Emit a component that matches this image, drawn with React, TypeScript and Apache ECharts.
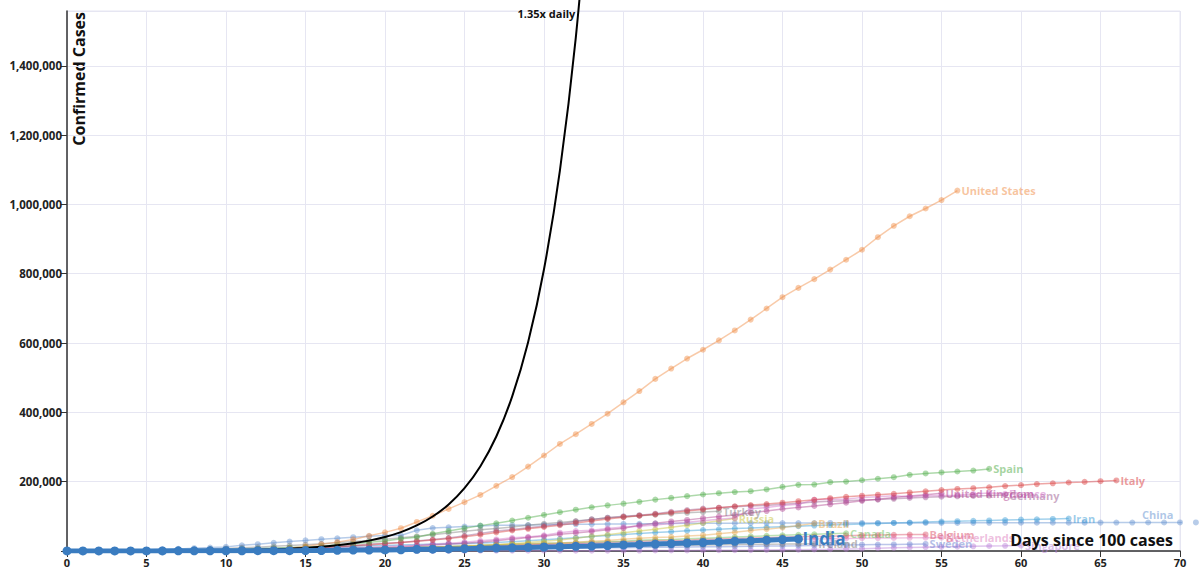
import React, { useEffect, useRef } from "react";
import * as echarts from "echarts";

const FONT = "'Open Sans', 'DejaVu Sans', sans-serif";

// Days since 100 cases (x), confirmed cases (y)
const xTicks = [0, 5, 10, 15, 20, 25, 30, 35, 40, 45, 50, 55, 60, 65, 70];
const yTicks = [200000, 400000, 600000, 800000, 1000000, 1200000, 1400000];

const dailyRef135 = [100, 135, 182, 246, 332, 448, 605, 817, 1103, 1489, 2011, 2714, 3664, 4947, 6678, 9016, 12170, 16430, 22180, 29950, 40430, 54580, 73680, 99470, 134280, 181280, 244730, 330380, 446010, 602120, 812860, 1097360, 1481440, 1999940];

const unitedStates = [149, 217, 262, 402, 518, 583, 959, 1281, 1663, 2179, 2727, 3499, 4632, 6421, 7783, 13747, 19273, 25600, 33276, 43847, 53740, 65778, 83836, 101657, 121478, 140886, 161807, 188172, 213372, 243453, 275586, 308850, 337072, 366667, 396223, 429052, 461437, 496535, 526396, 555313, 580619, 607670, 636350, 667592, 699706, 732197, 759086, 784326, 811865, 840351, 869170, 905358, 938154, 965785, 988197, 1012582, 1039909];

const spain = [120, 165, 222, 259, 400, 500, 673, 1073, 1695, 2277, 3146, 5232, 6391, 7798, 9942, 11748, 13910, 17963, 20410, 25374, 28768, 35136, 39885, 49515, 57786, 65719, 73235, 80110, 87956, 95923, 104118, 112065, 119199, 126168, 131646, 136675, 141942, 148220, 153222, 158273, 163027, 166831, 170099, 172541, 177644, 184948, 190839, 191726, 198674, 200210, 204178, 208389, 213024, 219764, 223759, 226629, 229422, 232128, 236899];

const italy = [155, 229, 322, 453, 655, 888, 1128, 1694, 2036, 2502, 3089, 3858, 4636, 5883, 7375, 9172, 10149, 12462, 15113, 17660, 21157, 24747, 27980, 31506, 35713, 41035, 47021, 53578, 59138, 63927, 69176, 74386, 80589, 86498, 92472, 97689, 101739, 105792, 110574, 115242, 119827, 124632, 128948, 132547, 135586, 139422, 143626, 147577, 152271, 156363, 159516, 162488, 165155, 168941, 172434, 175925, 178972, 181228, 183957, 187327, 189973, 192994, 195351, 197675, 199414, 201505, 203591];

const unitedKingdom = [115, 163, 206, 273, 321, 382, 456, 459, 802, 1144, 1145, 1551, 1960, 2642, 2716, 4014, 5067, 5745, 6726, 8164, 9640, 11812, 14745, 17312, 19780, 22453, 25481, 29865, 34173, 38689, 42477, 48436, 52279, 55949, 61474, 65872, 74605, 79874, 85206, 89570, 94845, 99483, 104145, 109769, 115314, 121172, 125856, 130172, 134638, 139246, 144640, 149569, 154037, 158348, 162350, 166441];

const france = [100, 130, 191, 204, 288, 380, 656, 959, 1136, 1219, 1794, 2293, 2293, 3681, 4496, 4532, 6683, 7715, 9124, 10970, 12758, 14463, 16243, 20123, 22622, 25600, 29551, 33402, 38105, 40708, 45170, 52827, 57749, 59929, 65202, 69500, 71412, 75343, 79163, 83057, 87366, 91738, 94863, 121712, 125394, 131361, 134582, 147969, 149149, 149149, 154715, 156813, 159297, 156480, 159109, 160292, 160847, 164589, 167605, 165093];

const germany = [130, 159, 196, 262, 482, 670, 799, 1040, 1176, 1457, 1908, 2078, 3675, 4585, 5795, 7272, 9257, 12327, 15320, 19848, 22213, 24873, 29056, 32986, 37323, 43938, 50871, 57695, 62095, 66885, 71808, 77872, 84794, 91159, 96092, 100123, 103374, 107663, 113296, 118181, 122171, 124908, 127854, 130072, 131359, 134753, 137698, 141397, 143342, 145184, 147065, 148291, 150648, 153129, 154999, 156513, 157770, 158758, 159912, 161539];

const turkey = [191, 359, 670, 947, 1236, 1529, 1872, 2433, 3629, 5698, 7402, 9217, 10827, 13531, 15679, 18135, 20921, 23934, 27069, 30217, 34109, 38226, 42282, 47029, 52167, 56956, 61049, 65111, 69392, 74193, 78546, 82329, 86306, 90980, 95591, 98674, 101790, 104912, 107773, 110130, 112261, 114653];

const russia = [114, 147, 199, 253, 306, 367, 438, 495, 658, 840, 1036, 1264, 1534, 1836, 2337, 2777, 3548, 4149, 4731, 5389, 6343, 7497, 8672, 10131, 11917, 13584, 15770, 18328, 21102, 24490, 27938, 32008, 36793, 42853, 47121, 52763, 57999, 62773, 68622, 74588, 80949, 87147, 93558];

const brazil = [151, 151, 162, 200, 321, 372, 621, 793, 1021, 1546, 1924, 2247, 2554, 2985, 3417, 3904, 4256, 4579, 5717, 6836, 8044, 9056, 10360, 11130, 12161, 14034, 16170, 18092, 19638, 20727, 22192, 23430, 25262, 28320, 30425, 33682, 36658, 38654, 40743, 43079, 45757, 50036, 54043, 59324, 63100, 67446, 73235, 79685];

const iran = [139, 245, 388, 593, 978, 1501, 2336, 2922, 3513, 4747, 5823, 6566, 7161, 8042, 9000, 10075, 11364, 12729, 13938, 14991, 16169, 17361, 18407, 19644, 20610, 21638, 23049, 24811, 27017, 29406, 32332, 35408, 38309, 41495, 44605, 47593, 50468, 53183, 55743, 58226, 60500, 62589, 64586, 66220, 68192, 70029, 71686, 73303, 74877, 76389, 77995, 79494, 80868, 82211, 83505, 84802, 85996, 87026, 88194, 89328, 90481, 91472, 92584, 93657];

const china = [548, 643, 920, 1406, 2075, 2877, 5509, 6087, 8141, 9802, 11891, 16630, 19716, 23707, 27440, 30587, 34110, 36814, 39829, 42354, 44386, 44759, 59895, 66358, 68413, 70513, 72434, 74211, 74619, 75077, 75550, 77001, 77022, 77241, 77754, 78166, 78600, 78928, 79356, 79932, 80136, 80261, 80386, 80537, 80690, 80770, 80823, 80860, 80887, 80921, 80932, 80945, 80977, 81003, 81033, 81058, 81102, 81156, 81250, 81305, 81435, 81498, 81591, 81661, 81782, 81897, 81999, 82122, 82198, 82279, 82361, 82432, 82511, 82543, 82602];

const canada = [108, 117, 193, 198, 252, 415, 478, 657, 800, 943, 1277, 1469, 2088, 2790, 3251, 4042, 4682, 5576, 6280, 7398, 8527, 9560, 11284, 12437, 12978, 15756, 16563, 17872, 19141, 20654, 22059, 23316, 24298, 25680, 27035, 28209, 30808, 32412, 33383, 35056, 36857, 38422, 40190, 42110, 43888, 45354, 46895, 48033, 49616, 51150];

const belgium = [109, 169, 200, 239, 267, 314, 314, 559, 689, 886, 1058, 1243, 1486, 1795, 2257, 2815, 3401, 3743, 4269, 4937, 6235, 7284, 9134, 10836, 11899, 12775, 13964, 15348, 16770, 18431, 19691, 20814, 22194, 23403, 24983, 26667, 28018, 29647, 30589, 31119, 33573, 34809, 36138, 37183, 38496, 39983, 40956, 41889, 42797, 44293, 45325, 46134, 46687, 47334, 47859];

const netherlands = [128, 188, 265, 321, 382, 503, 503, 806, 962, 1138, 1416, 1711, 2058, 2467, 3003, 3640, 4217, 4764, 5580, 6438, 7468, 8647, 9819, 10930, 11817, 12667, 13696, 14788, 15821, 17053, 18926, 18926, 19709, 20682, 21903, 22194, 23249, 24571, 25746, 26710, 27580, 28316, 29383, 30619, 31766, 32838, 33588, 34317, 35032, 35921, 36729, 37384, 37845, 38040, 38416, 38802];

const sweden = [137, 161, 203, 248, 355, 500, 599, 814, 961, 1022, 1103, 1190, 1279, 1439, 1639, 1763, 1934, 2046, 2286, 2526, 2840, 3069, 3447, 3700, 4028, 4435, 4947, 5568, 6131, 6443, 6830, 7206, 7693, 8419, 9141, 9685, 10151, 10483, 10948, 11445, 11927, 12540, 13216, 13822, 14385, 14777, 15322, 16004, 16755, 17567, 18177, 18640, 18926, 19621, 20302];

const singapore = [102, 106, 108, 110, 110, 117, 130, 138, 150, 150, 160, 178, 178, 200, 212, 226, 243, 266, 313, 345, 385, 432, 455, 509, 558, 631, 683, 732, 802, 844, 879, 926, 1000, 1049, 1114, 1189, 1309, 1375, 1481, 1623, 1910, 2108, 2299, 2532, 2918, 3252, 3699, 4427, 5050, 5992, 6588, 8014, 9125, 10141, 11178, 12075, 12693, 13624, 14423, 14951, 15641];

const ireland = [129, 129, 169, 223, 292, 557, 683, 785, 906, 1125, 1329, 1564, 1819, 2121, 2415, 2615, 2910, 3235, 3447, 3849, 4273, 4604, 4994, 5364, 5709, 6074, 6574, 8089, 8928, 9655, 10647, 11479, 12547, 13271, 13980, 14758, 15251, 15652, 16040, 16671, 17607, 18184, 18561, 19262, 19648, 19877, 20253, 20612];

const india = [113, 119, 142, 156, 194, 244, 330, 396, 499, 536, 657, 727, 887, 987, 1024, 1251, 1397, 1998, 2543, 2567, 3082, 3588, 4778, 5311, 5916, 6725, 7598, 8446, 9205, 10453, 11487, 12322, 13430, 14352, 15722, 17615, 18539, 20080, 21370, 23077, 24530, 26283, 27890, 29451, 31324, 33062, 34863];

const countries = [
  { name: "China", values: china, color: "#5f8fcf", label: false },
  { name: "Singapore", values: singapore, color: "#b77fd8" },
  { name: "Sweden", values: sweden, color: "#6a80d0" },
  { name: "Ireland", values: ireland, color: "#777777" },
  { name: "Netherlands", values: netherlands, color: "#de7fc0" },
  { name: "Belgium", values: belgium, color: "#dc5068" },
  { name: "Canada", values: canada, color: "#6cbd5a" },
  { name: "Iran", values: iran, color: "#3498d4" },
  { name: "Brazil", values: brazil, color: "#e8a448" },
  { name: "Russia", values: russia, color: "#c8c23a" },
  { name: "Turkey", values: turkey, color: "#7f7f7f" },
  { name: "Germany", values: germany, color: "#9a5a8e" },
  { name: "France", values: france, color: "#d070c8" },
  { name: "United Kingdom", values: unitedKingdom, color: "#b0408e" },
  { name: "Italy", values: italy, color: "#d93a3a" },
  { name: "Spain", values: spain, color: "#4caa44" },
  { name: "United States", values: unitedStates, color: "#f08a40" },
];

const INDIA_COLOR = "#3a7cc0";

function rgba(hex: string, a: number) {
  const n = parseInt(hex.slice(1), 16);
  return `rgba(${(n >> 16) & 255},${(n >> 8) & 255},${n & 255},${a})`;
}

export default function App() {
  const ref = useRef<HTMLDivElement>(null);

  useEffect(() => {
    if (!ref.current) return;
    const chart = echarts.init(ref.current, null, { renderer: "svg" });

    const faded = countries.map((c) => ({
      type: "line",
      name: c.name,
      data: c.values.map((v, i) => [i, v]),
      symbol: "circle",
      symbolSize: 6,
      showSymbol: true,
      silent: true,
      clip: c.name !== "China",
      z: 2,
      lineStyle: { color: rgba(c.color, 0.45), width: 1.5 },
      itemStyle: { color: rgba(c.color, 0.45) },
      endLabel: {
        show: c.label !== false,
        formatter: c.name,
        color: rgba(c.color, 0.5),
        fontWeight: "bold",
        fontSize: 11,
        fontFamily: FONT,
        distance: 4,
      },
      markPoint:
        c.name === "China"
          ? {
              symbol: "circle",
              symbolSize: 0,
              silent: true,
              data: [
                {
                  coord: [68.6, china[69]],
                  label: {
                    show: true,
                    formatter: "China",
                    position: "top",
                    distance: 2,
                    color: rgba(c.color, 0.5),
                    fontWeight: "bold",
                    fontSize: 11,
                    fontFamily: FONT,
                  },
                },
              ],
            }
          : undefined,
    }));

    const option = {
      animation: false,
      grid: {
        left: 67,
        right: 20,
        top: 11,
        bottom: 23,
        show: true,
        borderColor: "#e6e6f2",
        borderWidth: 1,
      },
      xAxis: {
        type: "value",
        min: 0,
        max: 70,
        interval: 5,
        axisLine: { show: true, onZero: false, lineStyle: { color: "#333", width: 1.5 } },
        axisTick: { show: true, length: 6, lineStyle: { color: "#333" } },
        axisLabel: {
          color: "#222",
          fontWeight: "bold",
          fontSize: 11,
          fontFamily: FONT,
          margin: 6,
          formatter: (v: number) => (xTicks.includes(v) ? String(v) : ""),
        },
        splitLine: { show: true, lineStyle: { color: "#e6e6f2", width: 1 } },
      },
      yAxis: {
        type: "value",
        min: 0,
        max: 1558000,
        interval: 200000,
        axisLine: { show: true, lineStyle: { color: "#333", width: 1.5 } },
        axisTick: { show: true, length: 6, lineStyle: { color: "#333" } },
        axisLabel: {
          color: "#222",
          fontWeight: "bold",
          fontSize: 11.5,
          fontFamily: FONT,
          margin: 5,
          showMaxLabel: false,
          formatter: (v: number) => (yTicks.includes(v) ? v.toLocaleString("en-US") : ""),
        },
        splitLine: { show: true, lineStyle: { color: "#e6e6f2", width: 1 } },
      },
      graphic: [
        {
          type: "text",
          x: 71,
          y: 12,
          rotation: Math.PI / 2,
          silent: true,
          style: {
            text: "Confirmed Cases",
            fill: "#111",
            font: `bold 16px ${FONT}`,
            align: "right",
            verticalAlign: "top",
          },
        },
        {
          type: "text",
          x: 1173,
          y: 540,
          silent: true,
          z: 100,
          style: {
            text: "Days since 100 cases",
            fill: "#111",
            font: `bold 16px ${FONT}`,
            align: "right",
            verticalAlign: "middle",
          },
        },
      ],
      series: [
        ...faded,
        {
          type: "line",
          name: "1.35x daily",
          data: dailyRef135.map((v, i) => [i, v]),
          showSymbol: false,
          smooth: 0.3,
          clip: false,
          silent: true,
          z: 3,
          lineStyle: { color: "#000", width: 2 },
          markPoint: {
            symbol: "circle",
            symbolSize: 0,
            silent: true,
            data: [
              {
                coord: [32.1, 1552000],
                label: {
                  show: true,
                  formatter: "1.35x daily",
                  position: "left",
                  distance: 2,
                  color: "#111",
                  fontWeight: "bold",
                  fontSize: 11,
                  fontFamily: FONT,
                },
              },
            ],
          },
        },
        {
          type: "line",
          name: "India",
          data: india.map((v, i) => [i, v]),
          symbol: "circle",
          symbolSize: 9,
          showSymbol: true,
          silent: true,
          z: 4,
          lineStyle: { color: INDIA_COLOR, width: 5 },
          itemStyle: { color: INDIA_COLOR },
          endLabel: {
            show: true,
            formatter: "India",
            color: INDIA_COLOR,
            fontWeight: "bold",
            fontSize: 17,
            fontFamily: FONT,
            distance: 4,
          },
        },
      ],
    };

    chart.setOption(option as any);
    return () => chart.dispose();
  }, []);

  return (
    <div
      ref={ref}
      style={{ position: "absolute", left: 0, top: 0, width: 1200, height: 574, background: "#fff" }}
    />
  );
}
